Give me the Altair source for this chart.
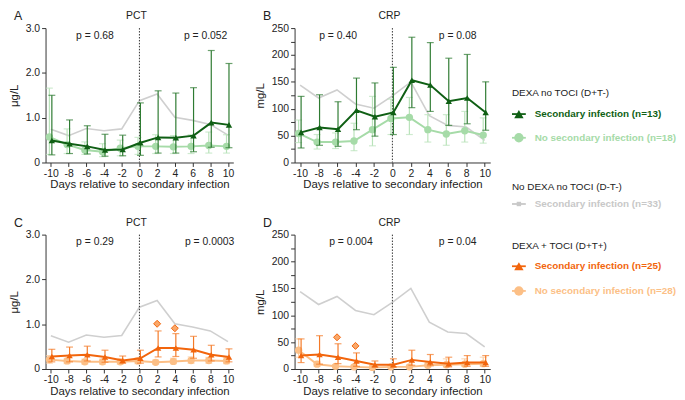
import altair as alt
import pandas as pd

FONT = "Liberation Sans"
TXT = "#222222"

days = [-10, -8, -6, -4, -2, 0, 2, 4, 6, 8, 10]

# No DEXA no TOCI, secondary infection (grey reference line)
pct_grey = [0.74, 0.60, 0.76, 0.71, 0.75, 1.38, 1.53, 1.01, 0.94, 0.85, 0.61]
crp_grey = [144, 120, 135, 109, 101, 124, 150, 87, 69, 66, 41]

# Panel A: PCT, DEXA no TOCI
pctA_sec_mean = [0.49, 0.42, 0.36, 0.28, 0.29, 0.44, 0.56, 0.55, 0.60, 0.89, 0.84]
pctA_sec_lo = [0.17, 0.20, 0.19, 0.14, 0.15, 0.16, 0.21, 0.21, 0.24, 0.34, 0.33]
pctA_sec_hi = [1.50, 0.95, 0.82, 0.63, 0.61, 1.33, 1.60, 1.55, 1.67, 2.50, 2.21]
pctA_no_mean = [0.57, 0.40, 0.28, 0.24, 0.32, 0.36, 0.36, 0.35, 0.36, 0.38, 0.36]
pctA_no_lo = [0.18, 0.20, 0.18, 0.13, 0.15, 0.18, 0.20, 0.20, 0.20, 0.21, 0.21]
pctA_no_hi = [1.66, 0.75, 0.46, 0.42, 0.50, 0.56, 0.62, 0.60, 0.62, 0.68, 0.62]

# Panel B: CRP, DEXA no TOCI
crpB_sec_mean = [56, 65, 62, 97, 85, 93, 153, 144, 114, 120, 93]
crpB_sec_lo = [27, 32, 30, 61, 49, 52, 102, 95, 69, 72, 60]
crpB_sec_hi = [123, 126, 113, 157, 148, 177, 233, 223, 194, 201, 150]
crpB_no_mean = [54, 38, 38, 40, 61, 82, 84, 61, 53, 59, 51]
crpB_no_lo = [37, 25, 26, 22, 31, 52, 52, 38, 32, 38, 36]
crpB_no_hi = [79, 52, 55, 73, 123, 118, 121, 89, 89, 95, 83]

# Panel C: PCT, DEXA + TOCI
pctC_sec_mean = [0.28, 0.30, 0.32, 0.27, 0.19, 0.24, 0.47, 0.47, 0.43, 0.32, 0.27]
pctC_sec_lo = [0.16, 0.16, 0.18, 0.15, 0.13, 0.13, 0.27, 0.28, 0.24, 0.18, 0.16]
pctC_sec_hi = [0.44, 0.49, 0.51, 0.42, 0.29, 0.42, 0.85, 0.79, 0.73, 0.53, 0.45]
pctC_no_mean = [0.21, 0.18, 0.16, 0.16, 0.16, 0.18, 0.15, 0.17, 0.19, 0.19, 0.18]
pctC_no_lo = [0.13, 0.12, 0.11, 0.11, 0.11, 0.12, 0.11, 0.12, 0.13, 0.13, 0.12]
pctC_no_hi = [0.30, 0.24, 0.22, 0.22, 0.22, 0.25, 0.20, 0.24, 0.27, 0.26, 0.25]
pctC_out_day = [2, 4]
pctC_out_val = [1.01, 0.91]

# Panel D: CRP, DEXA + TOCI
crpD_sec_mean = [25, 27, 22, 15, 8, 8, 17, 13, 10, 12, 12]
crpD_sec_lo = [12, 9, 10, 5, 4, 4, 7, 6, 4, 5, 5]
crpD_sec_hi = [56, 62, 47, 30, 15, 19, 35, 27, 22, 25, 25]
crpD_no_mean = [35, 9, 5, 4, 3, 4, 4, 7, 8, 9, 10]
crpD_no_lo = [22, 5, 3, 2, 2, 2, 2, 4, 4, 5, 5]
crpD_no_hi = [56, 14, 8, 7, 5, 7, 7, 13, 19, 19, 22]
crpD_out_day = [-6, -4]
crpD_out_val = [59, 43]

p_texts = {
    "A": ["p = 0.68", "p = 0.052"],
    "B": ["p = 0.40", "p = 0.08"],
    "C": ["p =  0.29", "p =  0.0003"],
    "D": ["p = 0.004", "p =  0.04"],
}

legend_headers = ["DEXA no TOCI (D+T-)", "No DEXA no TOCI (D-T-)", "DEXA + TOCI (D+T+)"]
legend_items = ["Secondary infection (n=13)", "No secondary infection (n=18)",
                "Secondary infection (n=33)",
                "Secondary infection (n=25)", "No secondary infection (n=28)"]

DARK_G, DARK_G_BAR = "#0f5f14", "#2e7b32"
LIGHT_G, LIGHT_G_BAR = "#a6dba8", "#b9e3ba"
GREY = "#cfcfcf"
DARK_O, DARK_O_BAR = "#f2650c", "#f47a28"
LIGHT_O, LIGHT_O_BAR = "#fcbf86", "#fcc99a"

X_TITLE = "Days relative to secondary infection"


def x_axis():
    return alt.Axis(values=days, labelExpr="'' + datum.value", title=X_TITLE,
                    grid=False, labelFontSize=10.5, labelOverlap=False,
                    titleFontSize=11.5, titleFontWeight="normal", tickSize=4,
                    labelPadding=2, titlePadding=0, domainColor="#333",
                    tickColor="#333", labelColor=TXT, titleColor=TXT,
                    labelFont=FONT, titleFont=FONT, labelFlush=False)


X_SCALE = alt.Scale(domain=[-10.6, 10.6], nice=False, zero=False)


def xenc():
    return alt.X("day:Q", scale=X_SCALE, axis=x_axis())


def make_yenc(ymax, vals, title, expr):
    def yenc(field):
        return alt.Y(f"{field}:Q", scale=alt.Scale(domain=[0, ymax], nice=False),
                     axis=alt.Axis(values=vals, labelExpr=expr, title=title, grid=False,
                                   labelFontSize=10.5, titleFontSize=11.5,
                                   labelOverlap=False,
                                   titleFontWeight="normal", tickSize=4, labelPadding=2,
                                   titlePadding=6, domainColor="#333", tickColor="#333",
                                   labelColor=TXT, titleColor=TXT, labelFont=FONT,
                                   titleFont=FONT))
    return yenc


def series(df, yenc, color, barcolor, shape, size, xoff):
    base = alt.Chart(df)
    bars = base.mark_rule(color=barcolor, strokeWidth=1.2, xOffset=xoff).encode(
        x=xenc(), y=yenc("lo"), y2="hi")
    cap_lo = base.mark_tick(color=barcolor, thickness=1.2, size=7, orient="horizontal",
                            xOffset=xoff).encode(x=xenc(), y=yenc("lo"))
    cap_hi = base.mark_tick(color=barcolor, thickness=1.2, size=7, orient="horizontal",
                            xOffset=xoff).encode(x=xenc(), y=yenc("hi"))
    line = base.mark_line(color=color, strokeWidth=2, xOffset=xoff).encode(
        x=xenc(), y=yenc("mean"))
    pts = base.mark_point(shape=shape, filled=True, size=size, color=color, opacity=1,
                          xOffset=xoff).encode(x=xenc(), y=yenc("mean"))
    return [bars, cap_lo, cap_hi, line, pts]


def panel(letter, title, width, yenc, grey, sec, no, dark, darkbar, light, lightbar,
          out=None, p_pos=(50, 165)):
    grey_df = pd.DataFrame({"day": days, "mean": grey})
    sec_df = pd.DataFrame({"day": days, "mean": sec[0], "lo": sec[1], "hi": sec[2]})
    no_df = pd.DataFrame({"day": days, "mean": no[0], "lo": no[1], "hi": no[2]})
    one = pd.DataFrame({"k": [0]})

    layers = []
    layers.append(alt.Chart(grey_df).mark_line(color=GREY, strokeWidth=1.6).encode(
        x=xenc(), y=yenc("mean")))
    layers.append(alt.Chart(one).mark_rule(color="#333", strokeWidth=1,
                                           strokeDash=[1.5, 1.5]).encode(
        x=alt.X(datum=0, scale=X_SCALE, axis=x_axis())))
    layers += series(no_df, yenc, light, lightbar, "circle", 55, -1.5)
    layers += series(sec_df, yenc, dark, darkbar, "triangle-up", 42, 1)
    if out is not None:
        out_df = pd.DataFrame({"day": out[0], "mean": out[1]})
        layers.append(alt.Chart(out_df).mark_point(shape="diamond", filled=True, size=50,
                                                   color="#f9a86a", stroke=DARK_O,
                                                   strokeWidth=1, opacity=1).encode(
            x=xenc(), y=yenc("mean")))
    for txt, px in zip(p_texts[letter], p_pos):
        layers.append(alt.Chart(one).mark_text(fontSize=10.5, font=FONT, color=TXT,
                                               align="center", baseline="middle").encode(
            x=alt.value(px), y=alt.value(8), text=alt.value(txt)))
    # panel title and panel letter
    layers.append(alt.Chart(one).mark_text(fontSize=10.5, font=FONT, color=TXT,
                                           align="center", baseline="middle").encode(
        x=alt.value(width / 2 - 3), y=alt.value(-12), text=alt.value(title)))
    layers.append(alt.Chart(one).mark_text(fontSize=12.5, font=FONT, color=TXT,
                                           align="left", baseline="middle").encode(
        x=alt.value(-32), y=alt.value(-12), text=alt.value(letter)))
    return alt.layer(*layers).properties(width=width, height=136)


pct_yenc = make_yenc(3.0, [0, 1, 2, 3], "μg/L",
                     "datum.value == 0 ? '0' : format(datum.value, '.1f')")
crp_yenc = make_yenc(250, [0, 25, 50, 75, 100, 125, 150, 175, 200, 225, 250], "mg/L",
                     "datum.value % 50 == 0 ? format(datum.value, 'd') : ''")

pA = panel("A", "PCT", 190, pct_yenc, pct_grey,
           (pctA_sec_mean, pctA_sec_lo, pctA_sec_hi), (pctA_no_mean, pctA_no_lo, pctA_no_hi),
           DARK_G, DARK_G_BAR, LIGHT_G, LIGHT_G_BAR, p_pos=(50, 162))
pB = panel("B", "CRP", 198, crp_yenc, crp_grey,
           (crpB_sec_mean, crpB_sec_lo, crpB_sec_hi), (crpB_no_mean, crpB_no_lo, crpB_no_hi),
           DARK_G, DARK_G_BAR, LIGHT_G, LIGHT_G_BAR, p_pos=(44, 165))
pC = panel("C", "PCT", 190, pct_yenc, pct_grey,
           (pctC_sec_mean, pctC_sec_lo, pctC_sec_hi), (pctC_no_mean, pctC_no_lo, pctC_no_hi),
           DARK_O, DARK_O_BAR, LIGHT_O, LIGHT_O_BAR, out=(pctC_out_day, pctC_out_val),
           p_pos=(50, 166))
pD = panel("D", "CRP", 198, crp_yenc, crp_grey,
           (crpD_sec_mean, crpD_sec_lo, crpD_sec_hi), (crpD_no_mean, crpD_no_lo, crpD_no_hi),
           DARK_O, DARK_O_BAR, LIGHT_O, LIGHT_O_BAR, out=(crpD_out_day, crpD_out_val),
           p_pos=(57, 165))

# ---- custom legend (layout rows in pixels from the top of the legend view) ----
LEG_H = 290
header_rows = [66, 161, 221]
item_rows = [87, 111, 178, 241, 266]
item_colors = [DARK_G, LIGHT_G, "#c8c8c8", DARK_O, LIGHT_O]
item_shapes = ["triangle-up", "circle", "square", "triangle-up", "circle"]
item_sizes = [90, 90, 20, 90, 90]

hdr_df = pd.DataFrame({"label": legend_headers, "ypos": header_rows})
item_df = pd.DataFrame({"label": legend_items, "ypos": item_rows, "color": item_colors,
                        "shape": item_shapes, "size": item_sizes})
ly = alt.Y("ypos:Q", scale=alt.Scale(domain=[0, LEG_H], reverse=True), axis=None)

leg_hdr = alt.Chart(hdr_df).mark_text(fontSize=10, font=FONT, color=TXT, align="left",
                                      baseline="middle").encode(
    x=alt.value(3), y=ly, text="label:N")
leg_seg = alt.Chart(item_df).mark_rule(strokeWidth=1.8).encode(
    x=alt.value(3), x2=alt.value(17), y=ly, color=alt.Color("color:N", scale=None))
leg_sym = alt.Chart(item_df).mark_point(filled=True, opacity=1).encode(
    x=alt.value(10), y=ly, color=alt.Color("color:N", scale=None),
    shape=alt.Shape("shape:N", scale=None), size=alt.Size("size:Q", scale=None))
leg_txt = alt.Chart(item_df).mark_text(fontSize=10, font=FONT, fontWeight="bold",
                                       align="left", baseline="middle").encode(
    x=alt.value(26), y=ly, text="label:N", color=alt.Color("color:N", scale=None))
legend = alt.layer(leg_hdr, leg_seg, leg_sym, leg_txt).properties(width=160, height=LEG_H)

col1 = alt.vconcat(pA, pC, spacing=27)
col2 = alt.vconcat(pB, pD, spacing=27)
chart = alt.hconcat(col1, col2, legend, spacing=18).properties(
    padding={"left": 0, "top": 0, "right": 0, "bottom": 0}
).configure(background="white", font=FONT).configure_view(
    stroke=None).configure_axis(labelOverlap=False)

chart.save("out.html", embed_options={"renderer": "svg", "actions": False})
